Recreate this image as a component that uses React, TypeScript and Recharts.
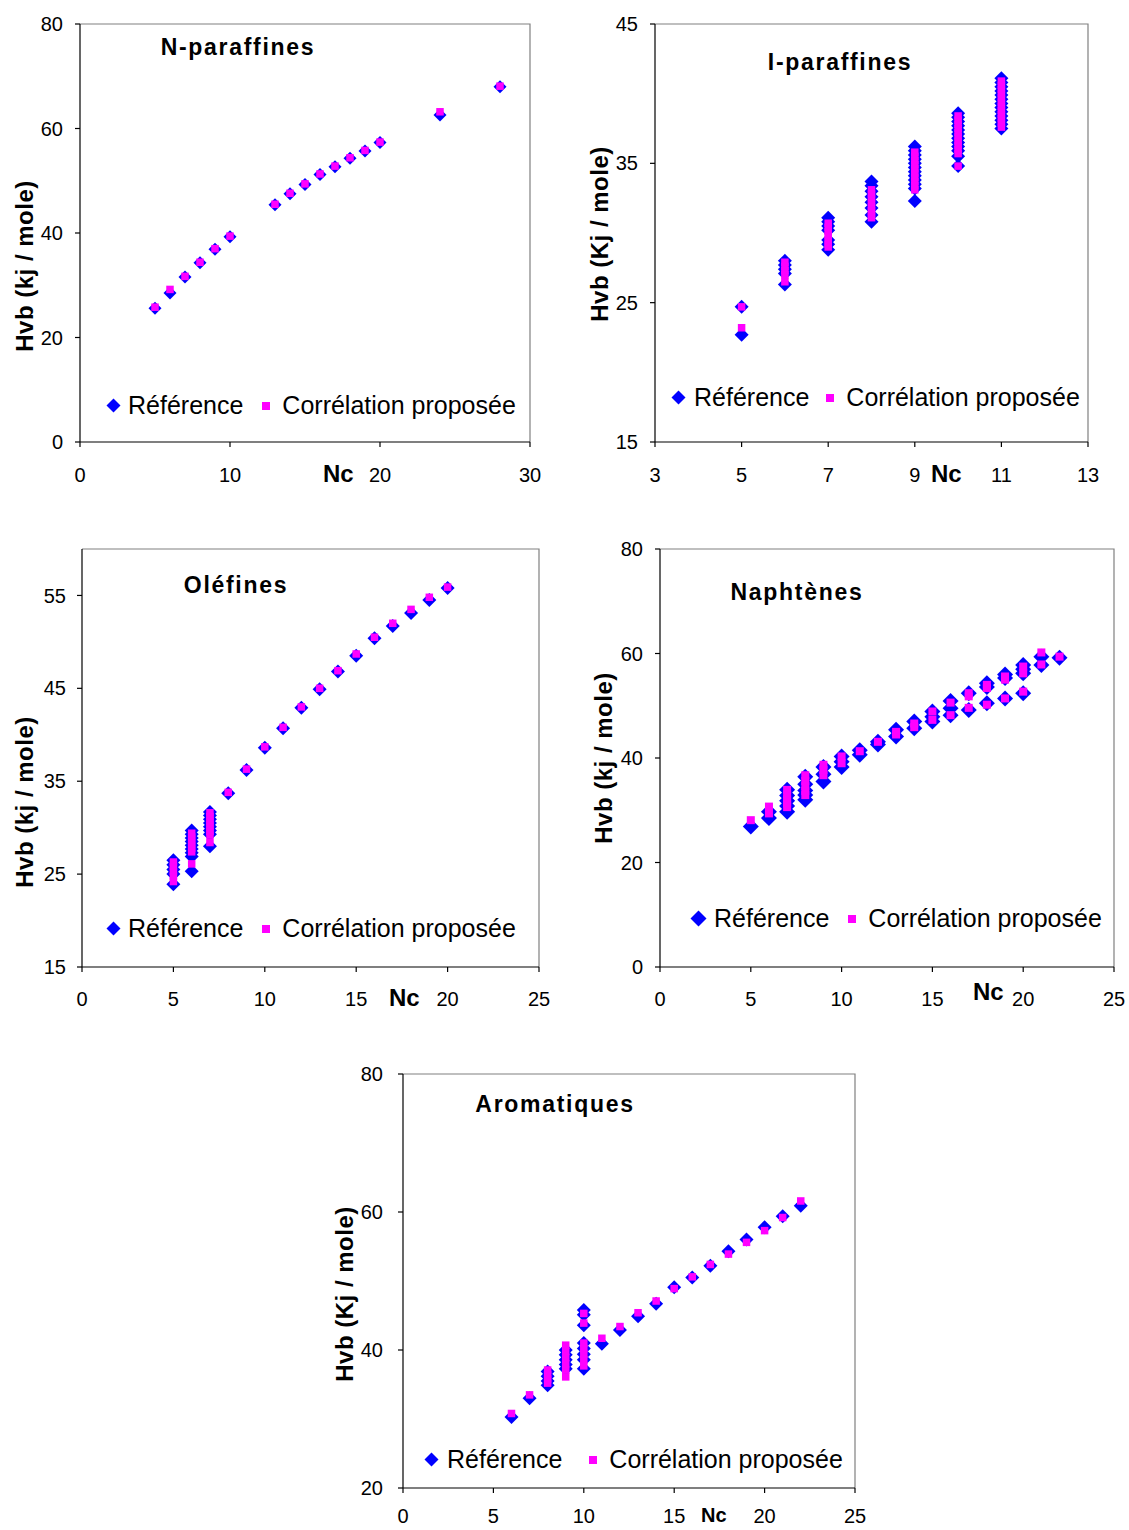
import React from 'react';
import { ScatterChart, Scatter, XAxis, YAxis, ReferenceArea, Legend, Label } from 'recharts';

const FONT = '"Liberation Sans", Arial, sans-serif';
const BLUE = '#0000FF';
const MAGENTA = '#FF00FF';
const REF_NAME = 'Référence';
const CORR_NAME = 'Corrélation proposée';

// ---------- N-paraffines ----------
const npNc = [5, 6, 7, 8, 9, 10, 13, 14, 15, 16, 17, 18, 19, 20, 24, 28];
const npRef = [25.6, 28.5, 31.6, 34.3, 36.9, 39.3, 45.4, 47.5, 49.3, 51.2, 52.7, 54.3, 55.7, 57.3, 62.6, 68.0];
const npCorr = [25.8, 29.2, 31.7, 34.4, 37.0, 39.4, 45.5, 47.6, 49.4, 51.3, 52.8, 54.4, 55.8, 57.4, 63.2, 68.1];
const npXTicks = [0, 10, 20, 30];
const npYTicks = [0, 20, 40, 60, 80];

// ---------- I-paraffines ----------
const ipNc = [5, 6, 7, 8, 9, 10, 11];
const ipRef = [
  [24.7, 22.7],
  [28.0, 27.7, 27.4, 27.1, 26.3],
  [31.1, 30.8, 30.5, 30.2, 29.5, 29.2, 28.8],
  [33.7, 33.4, 33.0, 32.6, 32.2, 31.8, 31.3, 30.8],
  [36.2, 35.9, 35.6, 35.3, 35.0, 34.7, 34.4, 34.1, 33.8, 33.5, 33.2, 32.3],
  [38.6, 38.3, 38.0, 37.7, 37.4, 37.1, 36.8, 36.5, 36.2, 35.9, 35.5, 34.8],
  [41.1, 40.8, 40.5, 40.2, 39.9, 39.6, 39.3, 39.0, 38.7, 38.4, 38.1, 37.8, 37.5],
];
const ipCorr = [
  [24.7, 23.2],
  [27.9, 27.6, 27.3, 27.0, 26.5],
  [30.7, 30.4, 30.1, 29.8, 29.5, 29.2, 29.0],
  [33.1, 32.8, 32.5, 32.2, 31.9, 31.6, 31.3, 31.1],
  [35.8, 35.5, 35.2, 34.9, 34.6, 34.3, 34.0, 33.7, 33.4, 33.1],
  [38.4, 38.1, 37.8, 37.5, 37.2, 36.9, 36.6, 36.3, 36.0, 35.7, 34.8],
  [40.9, 40.6, 40.3, 40.0, 39.7, 39.4, 39.1, 38.8, 38.5, 38.2, 37.9, 37.6],
];
const ipXTicks = [3, 5, 7, 9, 11, 13];
const ipYTicks = [15, 25, 35, 45];

// ---------- Oléfines ----------
const olNc = [5, 6, 7, 8, 9, 10, 11, 12, 13, 14, 15, 16, 17, 18, 19, 20];
const olRef = [
  [26.5, 26.0, 25.5, 25.0, 23.9],
  [29.7, 29.3, 28.9, 28.5, 28.1, 27.7, 27.3, 26.9, 25.3],
  [31.7, 31.3, 30.9, 30.5, 30.1, 29.7, 29.3, 28.0],
  [33.7], [36.2], [38.6], [40.7], [42.9], [44.9], [46.8], [48.5], [50.4], [51.7], [53.1], [54.5], [55.8],
];
const olCorr = [
  [26.3, 25.8, 25.3, 24.8, 24.2],
  [29.4, 29.0, 28.6, 28.2, 27.8, 27.4, 26.1],
  [31.6, 31.2, 30.8, 30.4, 30.0, 29.6, 29.2, 28.4],
  [33.8], [36.3], [38.7], [40.8], [43.0], [45.0], [46.9], [48.7], [50.5], [52.0], [53.5], [54.8], [55.9],
];
const olXTicks = [0, 5, 10, 15, 20, 25];
const olYTicks = [15, 25, 35, 45, 55];

// ---------- Naphtènes ----------
const naNc = [5, 6, 7, 8, 9, 10, 11, 12, 13, 14, 15, 16, 17, 18, 19, 20, 21, 22];
const naRef = [
  [26.9],
  [29.7, 28.5],
  [33.9, 32.8, 31.8, 30.8, 29.7],
  [36.4, 35.0, 33.8, 32.9, 32.0],
  [38.3, 36.9, 35.5],
  [40.3, 39.3, 38.3],
  [41.5, 40.6],
  [43.1, 42.6],
  [45.4, 44.1],
  [47.0, 45.7],
  [48.9, 47.9, 47.0],
  [50.9, 49.5, 48.2],
  [52.4, 49.2],
  [54.3, 53.6, 50.5],
  [56.0, 55.3, 51.4],
  [57.8, 57.0, 56.2, 52.4],
  [59.4, 57.8],
  [59.2],
];
const naCorr = [
  [28.1],
  [30.7, 29.4],
  [33.9, 33.0, 32.1, 31.3, 30.6],
  [36.7, 35.6, 34.6, 33.7, 32.9],
  [38.7, 37.7, 36.7],
  [40.3, 39.0],
  [41.3],
  [43.1],
  [45.0, 44.5],
  [46.6, 45.9],
  [48.9, 47.3],
  [50.6, 48.2],
  [52.4, 51.8, 49.6],
  [54.0, 53.4, 50.2],
  [55.6, 55.0, 51.4],
  [57.5, 56.2, 52.7],
  [60.2, 57.9],
  [59.4],
];
const naXTicks = [0, 5, 10, 15, 20, 25];
const naYTicks = [0, 20, 40, 60, 80];

// ---------- Aromatiques ----------
const arNc = [6, 7, 8, 9, 10, 11, 12, 13, 14, 15, 16, 17, 18, 19, 20, 21, 22];
const arRef = [
  [30.3],
  [33.0],
  [36.9, 36.2, 35.5, 34.9],
  [40.0, 39.3, 38.6, 37.9, 37.3],
  [45.8, 45.1, 43.6, 41.0, 40.2, 39.4, 38.6, 37.3],
  [40.9], [42.9], [44.9], [46.7], [49.1], [50.5], [52.2], [54.3], [56.0], [57.8], [59.4], [60.9],
];
const arCorr = [
  [30.8],
  [33.5],
  [37.1, 36.4, 35.8, 35.2],
  [40.7, 39.8, 38.9, 38.0, 37.1, 36.1],
  [45.3, 43.9, 41.0, 40.2, 39.4, 38.6, 37.7],
  [41.7], [43.4], [45.4], [47.1], [48.9], [50.6], [52.4], [53.9], [55.6], [57.3], [59.2], [61.6],
];
const arXTicks = [0, 5, 10, 15, 20, 25];
const arYTicks = [20, 40, 60, 80];

// ---------- helpers ----------
type Pt = { x: number; y: number };
const fromPairs = (nc: number[], vals: number[]): Pt[] => nc.map((n, i) => ({ x: n, y: vals[i] }));
const fromGroups = (nc: number[], vals: number[][]): Pt[] =>
  nc.flatMap((n, i) => vals[i].map((v) => ({ x: n, y: v })));

const diamondShape = (r: number) => (p: any) => (
  <polygon
    points={`${p.cx},${p.cy - r} ${p.cx + r},${p.cy} ${p.cx},${p.cy + r} ${p.cx - r},${p.cy}`}
    fill={BLUE}
  />
);
const squareShape = (s: number) => (p: any) => (
  <rect x={p.cx - s / 2} y={p.cy - s / 2} width={s} height={s} fill={MAGENTA} />
);

type Cfg = {
  left: number; top: number; width: number; height: number;
  mTop: number; mRight: number; yAxisW: number; xAxisH: number;
  xDomain: [number, number]; yDomain: [number, number];
  xTicks: number[]; yTicks: number[]; yTickMargin: number; xTickMargin: number;
  title: string; titleX: number; titleY: number;
  yLabel: string; ylX: number; ylY: number;
  ncX: number; ncY: number; ncSize: number;
  legLeft: number; legTop: number; g1: number; g2: number; g3: number; iconR: number;
  dR: number; sS: number;
  refData: Pt[]; corrData: Pt[];
};

const LegendBox = ({ c }: { c: Cfg }) => {
  const w = c.iconR * 2 + 1;
  return (
    <div
      style={{
        display: 'flex', alignItems: 'center', fontFamily: FONT, fontSize: 25,
        lineHeight: '25px', color: '#000', whiteSpace: 'nowrap',
      }}
    >
      <svg width={w} height={w} style={{ display: 'block' }}>
        <polygon
          points={`${w / 2},0.5 ${w - 0.5},${w / 2} ${w / 2},${w - 0.5} 0.5,${w / 2}`}
          fill={BLUE}
        />
      </svg>
      <span style={{ marginLeft: c.g1 }}>{REF_NAME}</span>
      <svg width={10} height={10} style={{ display: 'block', marginLeft: c.g2 }}>
        <rect x={1} y={1} width={8} height={8} fill={MAGENTA} />
      </svg>
      <span style={{ marginLeft: c.g3 }}>{CORR_NAME}</span>
    </div>
  );
};

const Panel = ({ c }: { c: Cfg }) => {
  const overlay = () => (
    <g fontFamily={FONT} fill="#000">
      <text x={c.titleX} y={c.titleY} textAnchor="middle" fontWeight="bold" fontSize={23} letterSpacing={1.7}>
        {c.title}
      </text>
      <text x={c.ncX} y={c.ncY} fontWeight="bold" fontSize={c.ncSize}>
        Nc
      </text>
      <text
        transform={`translate(${c.ylX},${c.ylY}) rotate(-90)`}
        textAnchor="middle"
        fontWeight="bold"
        fontSize={24}
        letterSpacing={0.5}
      >
        {c.yLabel}
      </text>
    </g>
  );
  return (
    <div style={{ position: 'absolute', left: c.left, top: c.top, width: c.width, height: c.height }}>
      <ScatterChart
        width={c.width}
        height={c.height}
        margin={{ top: c.mTop, right: c.mRight, left: 0, bottom: 0 }}
      >
        <ReferenceArea
          x1={c.xDomain[0]}
          x2={c.xDomain[1]}
          y1={c.yDomain[0]}
          y2={c.yDomain[1]}
          ifOverflow="visible"
          shape={(p: any) => (
            <path
              d={`M${p.x},${p.y} H${p.x + p.width} V${p.y + p.height}`}
              stroke="#808080"
              strokeWidth={1.2}
              fill="none"
            />
          )}
        />
        <XAxis
          type="number"
          dataKey="x"
          domain={c.xDomain}
          ticks={c.xTicks}
          interval={0}
          height={c.xAxisH}
          tickSize={5}
          tickMargin={c.xTickMargin}
          axisLine={{ stroke: '#000', strokeWidth: 1.2 }}
          tickLine={{ stroke: '#000', strokeWidth: 1.2 }}
          tick={{ fill: '#000', fontSize: 20, fontFamily: FONT }}
        >
          <Label content={overlay} />
        </XAxis>
        <YAxis
          type="number"
          dataKey="y"
          domain={c.yDomain}
          ticks={c.yTicks}
          interval={0}
          width={c.yAxisW}
          tickSize={5}
          tickMargin={c.yTickMargin}
          axisLine={{ stroke: '#000', strokeWidth: 1.2 }}
          tickLine={{ stroke: '#000', strokeWidth: 1.2 }}
          tick={{ fill: '#000', fontSize: 20, fontFamily: FONT }}
        />
        <Scatter
          name={REF_NAME}
          data={c.refData}
          fill={BLUE}
          shape={diamondShape(c.dR)}
          isAnimationActive={false}
        />
        <Scatter
          name={CORR_NAME}
          data={c.corrData}
          fill={MAGENTA}
          shape={squareShape(c.sS)}
          isAnimationActive={false}
        />
        <Legend
          layout="horizontal"
          verticalAlign="middle"
          align="center"
          content={() => <LegendBox c={c} />}
          wrapperStyle={{ left: c.legLeft, top: c.legTop, width: 'auto', height: 'auto' }}
        />
      </ScatterChart>
    </div>
  );
};

const panels: Cfg[] = [
  {
    left: 0, top: 0, width: 565, height: 500, mTop: 24, mRight: 35, yAxisW: 80, xAxisH: 58,
    xDomain: [0, 30], yDomain: [0, 80], xTicks: npXTicks, yTicks: npYTicks, yTickMargin: 12, xTickMargin: 21,
    title: 'N-paraffines', titleX: 238, titleY: 55,
    yLabel: 'Hvb (kj / mole)', ylX: 33, ylY: 266,
    ncX: 323, ncY: 482, ncSize: 24,
    legLeft: 106, legTop: 393, g1: 7, g2: 18, g3: 11, iconR: 7,
    dR: 6.5, sS: 7.5,
    refData: fromPairs(npNc, npRef), corrData: fromPairs(npNc, npCorr),
  },
  {
    left: 565, top: 0, width: 564, height: 500, mTop: 24, mRight: 41, yAxisW: 90, xAxisH: 58,
    xDomain: [3, 13], yDomain: [15, 45], xTicks: ipXTicks, yTicks: ipYTicks, yTickMargin: 12, xTickMargin: 21,
    title: 'I-paraffines', titleX: 275, titleY: 70,
    yLabel: 'Hvb (Kj / mole)', ylX: 43, ylY: 234,
    ncX: 366, ncY: 482, ncSize: 24,
    legLeft: 106, legTop: 385, g1: 8, g2: 16, g3: 11, iconR: 7,
    dR: 7, sS: 7.5,
    refData: fromGroups(ipNc, ipRef), corrData: fromGroups(ipNc, ipCorr),
  },
  {
    left: 0, top: 510, width: 565, height: 510, mTop: 39, mRight: 26, yAxisW: 82, xAxisH: 53,
    xDomain: [0, 25], yDomain: [15, 60], xTicks: olXTicks, yTicks: olYTicks, yTickMargin: 11, xTickMargin: 20,
    title: 'Oléfines', titleX: 236, titleY: 83,
    yLabel: 'Hvb (kj / mole)', ylX: 33, ylY: 292,
    ncX: 389, ncY: 496, ncSize: 24,
    legLeft: 106, legTop: 406, g1: 7, g2: 18, g3: 11, iconR: 7,
    dR: 7, sS: 7.5,
    refData: fromGroups(olNc, olRef), corrData: fromGroups(olNc, olCorr),
  },
  {
    left: 565, top: 510, width: 564, height: 510, mTop: 39, mRight: 15, yAxisW: 95, xAxisH: 53,
    xDomain: [0, 25], yDomain: [0, 80], xTicks: naXTicks, yTicks: naYTicks, yTickMargin: 12, xTickMargin: 20,
    title: 'Naphtènes', titleX: 232, titleY: 90,
    yLabel: 'Hvb (kj / mole)', ylX: 47, ylY: 248,
    ncX: 408, ncY: 490, ncSize: 24,
    legLeft: 125, legTop: 396, g1: 7, g2: 18, g3: 11, iconR: 8,
    dR: 8, sS: 8,
    refData: fromGroups(naNc, naRef), corrData: fromGroups(naNc, naCorr),
  },
  {
    left: 300, top: 1030, width: 600, height: 500, mTop: 44, mRight: 45, yAxisW: 103, xAxisH: 42,
    xDomain: [0, 25], yDomain: [20, 80], xTicks: arXTicks, yTicks: arYTicks, yTickMargin: 15, xTickMargin: 16,
    title: 'Aromatiques', titleX: 255, titleY: 82,
    yLabel: 'Hvb (Kj / mole)', ylX: 53, ylY: 264,
    ncX: 401, ncY: 492, ncSize: 20,
    legLeft: 124, legTop: 417, g1: 8, g2: 26, g3: 11, iconR: 7,
    dR: 7, sS: 7.5,
    refData: fromGroups(arNc, arRef), corrData: fromGroups(arNc, arCorr),
  },
];

export default function App() {
  return (
    <div
      style={{
        position: 'absolute', left: 0, top: 0, width: 1129, height: 1530,
        background: '#fff', fontFamily: FONT, overflow: 'hidden',
      }}
    >
      {panels.map((c, i) => (
        <Panel key={i} c={c} />
      ))}
    </div>
  );
}
